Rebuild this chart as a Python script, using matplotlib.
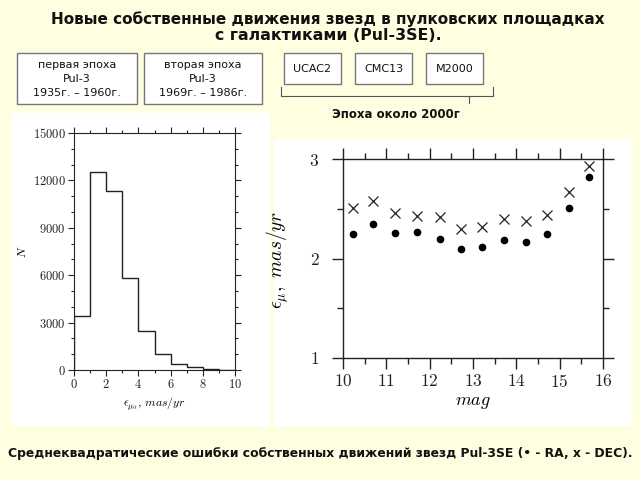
import numpy as np
import matplotlib
matplotlib.use("Agg")
import matplotlib.pyplot as plt
from matplotlib.patches import Rectangle
from matplotlib.ticker import MultipleLocator

# histogram of proper-motion errors (RA)
bin_edges = [0, 1, 2, 3, 4, 5, 6, 7, 8, 9, 10]
counts = [3400, 12500, 11300, 5800, 2500, 1000, 400, 170, 90, 30]

# errors vs magnitude
mag = [10.22, 10.70, 11.21, 11.71, 12.23, 12.73, 13.21, 13.72, 14.22, 14.71, 15.21, 15.68]
err_ra = [2.25, 2.35, 2.26, 2.27, 2.20, 2.10, 2.12, 2.19, 2.17, 2.25, 2.51, 2.82]
err_dec = [2.51, 2.58, 2.46, 2.43, 2.42, 2.30, 2.32, 2.40, 2.38, 2.44, 2.67, 2.93]

BG = "#fefee0"
W, H = 640, 480

plt.rcParams["mathtext.fontset"] = "cm"
plt.rcParams["axes.formatter.use_mathtext"] = True

fig = plt.figure(figsize=(6.4, 4.8), dpi=100, facecolor=BG)


def px(x, y, w, h):
    # pixel box (from top-left) -> figure fraction
    return [x / W, 1 - (y + h) / H, w / W, h / H]


def rect(x, y, w, h, fc="white", ec="none", lw=1.0):
    l, b, ww, hh = px(x, y, w, h)
    fig.patches.append(Rectangle((l, b), ww, hh, transform=fig.transFigure,
                                 facecolor=fc, edgecolor=ec, linewidth=lw, zorder=-5))


def ftext(x, y, s, **kw):
    fig.text(x / W, 1 - y / H, s, ha="center", va="center", **kw)


# title
ftext(328, 19, "Новые собственные движения звезд в пулковских площадках",
      fontsize=11, fontweight="bold", color="#111111")
ftext(328, 36, "с галактиками (Pul-3SE).", fontsize=11.3, fontweight="bold", color="#111111")

# epoch boxes
rect(17, 53, 120, 51, ec="#777777")
rect(144, 53, 118, 51, ec="#777777")
for cx, lines in [(77, ["первая эпоха", "Pul-3", "1935г. – 1960г."]),
                  (203, ["вторая эпоха", "Pul-3", "1969г. – 1986г."])]:
    for i, s in enumerate(lines):
        ftext(cx, 65 + i * 14, s, fontsize=8, color="#111111")

for x0, s in [(284, "UCAC2"), (355, "CMC13"), (426, "M2000")]:
    rect(x0, 53, 57, 31, ec="#777777")
    ftext(x0 + 28.5, 69, s, fontsize=8, color="#111111")

# bracket
bx = [281 / W, 281 / W, 493 / W, 493 / W]
by = [1 - 87 / H, 1 - 96 / H, 1 - 96 / H, 1 - 87 / H]
fig.lines.append(plt.Line2D(bx, by, transform=fig.transFigure, color="#555555", lw=0.8))
fig.lines.append(plt.Line2D([469 / W, 469 / W], [1 - 96 / H, 1 - 103 / H],
                            transform=fig.transFigure, color="#555555", lw=0.8))
ftext(396, 115, "Эпоха около 2000г", fontsize=8.5, fontweight="bold", color="#111111")

# white panels
rect(12, 113, 258, 313)
rect(274, 139, 358, 287)

# caption
ftext(320, 453, "Среднеквадратические ошибки собственных движений звезд Pul-3SE (• - RA, x - DEC).",
      fontsize=8.9, fontweight="bold", color="#111111")

# left: histogram
ax1 = fig.add_axes(px(74, 133, 161, 237))
ax1.stairs(counts, bin_edges, color="#222222", lw=1.0)
ax1.set_xlim(0, 10)
ax1.set_ylim(0, 15000)
ax1.xaxis.set_major_locator(MultipleLocator(2))
ax1.xaxis.set_minor_locator(MultipleLocator(1))
ax1.yaxis.set_major_locator(MultipleLocator(3000))
ax1.yaxis.set_minor_locator(MultipleLocator(1000))
ax1.tick_params(which="both", direction="out", top=True, right=True, labelsize=9,
                width=0.8, colors="#222222", pad=2)
ax1.tick_params(which="major", length=4)
ax1.tick_params(which="minor", length=2.5)
for lab in ax1.get_xticklabels() + ax1.get_yticklabels():
    lab.set_fontname("cmr10")
ax1.set_xlabel(r"$\epsilon_{\mu_\alpha},\,mas/yr$", fontsize=8.5, labelpad=3)
ax1.set_ylabel(r"$N$", fontsize=8.5, labelpad=3)
for sp in ax1.spines.values():
    sp.set_linewidth(0.8)
    sp.set_color("#222222")

# right: errors vs magnitude
ax2 = fig.add_axes(px(343, 159, 260, 199))
ax2.plot(mag, err_ra, "o", color="black", markersize=4.5, linestyle="none")
ax2.plot(mag, err_dec, "x", color="#222222", markersize=7, markeredgewidth=0.9,
         linestyle="none")
ax2.set_xlim(10, 16)
ax2.set_ylim(1, 3)
ax2.xaxis.set_major_locator(MultipleLocator(1))
ax2.xaxis.set_minor_locator(MultipleLocator(0.5))
ax2.yaxis.set_major_locator(MultipleLocator(1))
ax2.yaxis.set_minor_locator(MultipleLocator(0.5))
ax2.tick_params(which="both", direction="out", top=True, right=True, labelsize=12.5,
                width=1.0, colors="#222222", pad=3)
ax2.tick_params(axis="y", which="major", pad=9)
ax2.tick_params(which="major", length=8)
ax2.tick_params(which="minor", length=4)
for lab in ax2.get_xticklabels() + ax2.get_yticklabels():
    lab.set_fontname("cmr10")
ax2.set_xlabel(r"$mag$", fontsize=13, labelpad=2)
ax2.set_ylabel(r"$\epsilon_\mu,\ mas/yr$", fontsize=14)
ax2.yaxis.set_label_coords(-0.2, 0.49)
for sp in ax2.spines.values():
    sp.set_linewidth(1.0)
    sp.set_color("#222222")

fig.savefig("out.png", dpi=100, facecolor=BG)
